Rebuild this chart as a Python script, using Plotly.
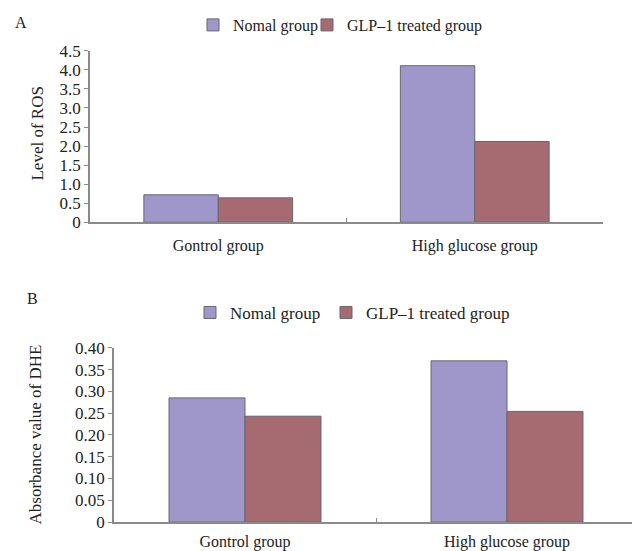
import plotly.graph_objects as go

categories = ["Gontrol group", "High glucose group"]
series_names = ["Nomal group", "GLP\u20131 treated group"]
ros_nomal = [0.72, 4.11]
ros_glp = [0.64, 2.12]
dhe_nomal = [0.285, 0.370]
dhe_glp = [0.243, 0.254]
ros_tickvals = [0, 0.5, 1.0, 1.5, 2.0, 2.5, 3.0, 3.5, 4.0, 4.5]
ros_ticktext = ["0", "0.5", "1.0", "1.5", "2.0", "2.5", "3.0", "3.5", "4.0", "4.5"]
dhe_tickvals = [0, 0.05, 0.10, 0.15, 0.20, 0.25, 0.30, 0.35, 0.40]
dhe_ticktext = ["0", "0.05", "0.10", "0.15", "0.20", "0.25", "0.30", "0.35", "0.40"]

PURPLE = "#9f96c9"
RED = "#a56b71"
EDGE = "#6a6470"
FONT = "Times New Roman, Liberation Serif, DejaVu Serif, serif"
W, H = 640, 551

fig = go.Figure()
legs = ["legend", "legend2", "legend3", "legend4"]
i = 0
for (n, g), xa, ya in [((ros_nomal, ros_glp), "x", "y"), ((dhe_nomal, dhe_glp), "x2", "y2")]:
    for vals, name, col in [(n, series_names[0], PURPLE), (g, series_names[1], RED)]:
        fig.add_trace(go.Bar(x=categories, y=vals, name=name, showlegend=True,
                             marker=dict(color=col, line=dict(color=EDGE, width=1)),
                             xaxis=xa, yaxis=ya, legend=legs[i]))
        i += 1

axcol = "#8a8a8a"
common_x = dict(type="category", tickson="boundaries", ticks="inside", ticklen=4, tickcolor=axcol,
                showline=True, linecolor=axcol, linewidth=1.5, showgrid=False, zeroline=False,
                automargin=False, tickfont=dict(family=FONT, size=16, color="#222"))
common_y = dict(ticks="outside", ticklen=4, tickcolor=axcol, showline=True, linecolor=axcol, linewidth=1.5,
                showgrid=False, zeroline=False, automargin=False,
                tickfont=dict(family=FONT, size=17, color="#222"))

def leg(xpx, ypx, fs):
    return dict(orientation="h", x=xpx / W, y=1 - ypx / H, xanchor="left", yanchor="middle",
                font=dict(family=FONT, size=fs, color="#222"), itemwidth=30, bgcolor="rgba(0,0,0,0)")

fig.update_layout(
    width=W, height=H, margin=dict(l=0, r=0, t=0, b=0, pad=0),
    paper_bgcolor="white", plot_bgcolor="white", showlegend=True,
    barmode="group", bargap=0.42, bargroupgap=0,
    font=dict(family=FONT, size=16, color="#222"),
    xaxis=dict(domain=[82 / W, 595 / W], anchor="y", ticklabelstandoff=8, **common_x),
    yaxis=dict(domain=[1 - 213 / H, 1 - 41 / H], range=[0, 4.5], anchor="x",
               tickvals=ros_tickvals, ticktext=ros_ticktext, **common_y),
    xaxis2=dict(domain=[106 / W, 630 / W], anchor="y2", ticklabelstandoff=4, **common_x),
    yaxis2=dict(domain=[1 - 514 / H, 1 - 339 / H], range=[0, 0.4], anchor="x2",
                tickvals=dhe_tickvals, ticktext=dhe_ticktext, **common_y),
    legend=leg(185, 15, 16),
    legend2=leg(299, 15, 16),
    legend3=leg(182, 304, 17),
    legend4=leg(318, 304, 17),
    annotations=[
        dict(text="A", x=13 / W, y=1 - 13 / H, xref="paper", yref="paper", showarrow=False,
             xanchor="center", yanchor="middle", font=dict(family=FONT, size=16)),
        dict(text="B", x=24 / W, y=1 - 290 / H, xref="paper", yref="paper", showarrow=False,
             xanchor="center", yanchor="middle", font=dict(family=FONT, size=16)),
        dict(text="Level of ROS", x=30 / W, y=1 - 124 / H, xref="paper", yref="paper", showarrow=False,
             xanchor="center", yanchor="middle", textangle=-90, font=dict(family=FONT, size=17)),
        dict(text="Absorbance value of DHE", x=27 / W, y=1 - 426 / H, xref="paper", yref="paper",
             showarrow=False, xanchor="center", yanchor="middle", textangle=-90,
             font=dict(family=FONT, size=17)),
    ],
)

fig.write_html("out.html")
